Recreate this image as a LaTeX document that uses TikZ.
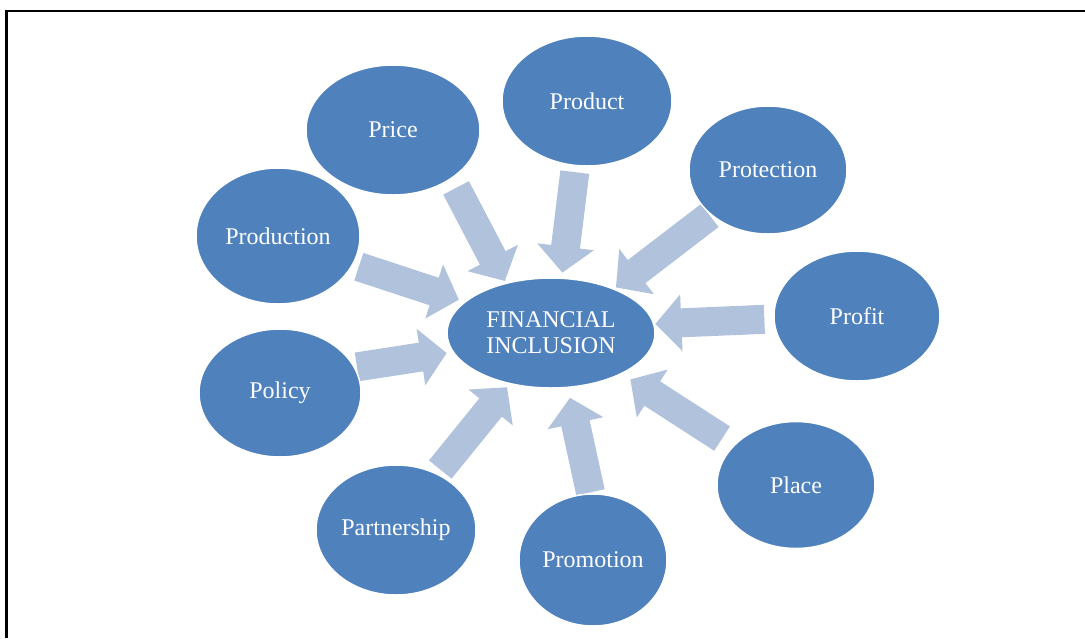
\documentclass[tikz,border=0pt]{standalone}
\usepackage{fontspec}
\setmainfont{Liberation Serif}
\usetikzlibrary{shapes.geometric}
\usetikzlibrary{arrows.meta}
\usetikzlibrary{backgrounds}
\definecolor{ovalblue}{HTML}{4F81BD}
\definecolor{arrowblue}{HTML}{B1C2DD}
\tikzset{oval/.style={ellipse,fill=ovalblue,draw=white,line width=1.5pt,text=white,inner sep=0pt,align=center,font=\fontsize{24}{26}\selectfont},
flow/.style 2 args={draw=arrowblue,line width=1pt,shorten <=#1,shorten >=#2,-{Triangle[length=26pt,width=57pt,line width=0pt,fill=arrowblue]},
  preaction={draw=arrowblue,-,line width=29pt,shorten >=#2+25.5pt}}}

\begin{document}
\begin{tikzpicture}[x=1pt,y=-1pt]
\useasboundingbox (0,0) rectangle (1085,638);
\draw[line width=2.2pt] (1085,11) -- (6.5,11) -- (6.5,638);

\node (fin) at (551,333) [oval,minimum width=208pt,minimum height=110pt] {FINANCIAL\\INCLUSION};
\node (price) at (393,130) [oval,minimum width=174pt,minimum height=130pt] {Price};
\node (product) at (587,101) [oval,minimum width=170pt,minimum height=130pt] {Product};
\node (protection) at (768,170) [oval,minimum width=158pt,minimum height=128pt] {Protection};
\node (production) at (278,236) [oval,minimum width=164pt,minimum height=136pt] {Production};
\node (profit) at (857,316) [oval,minimum width=166pt,minimum height=130pt] {Profit};
\node (policy) at (280,393) [oval,minimum width=162pt,minimum height=128pt] {Policy};
\node (place) at (796,485) [oval,minimum width=158pt,minimum height=127pt] {Place};
\node (partnership) at (396,530) [oval,minimum width=160pt,minimum height=130pt] {Partnership};
\node (promotion) at (593,560) [oval,minimum width=148pt,minimum height=132pt] {Promotion};

\begin{scope}[on background layer]
\draw [flow={10pt}{2pt}] (price.-40) -- (fin.132);
\draw [flow={6pt}{5pt}] (product.-100) -- (fin.79);
\draw [flow={1pt}{2pt}] (protection.-142) -- (fin.35);
\draw [flow={6pt}{6pt}] (production.-21) -- (fin.160);
\draw [flow={9pt}{1pt}] (profit.182) -- (fin.5);
\draw [flow={2pt}{6pt}] (policy.19) -- (fin.191);
\draw [flow={5pt}{4pt}] (partnership.54) -- (fin.-129);
\draw [flow={1pt}{10pt}] (promotion.92) -- (fin.-73);
\draw [flow={13pt}{10pt}] (place.148) -- (fin.-30);
\end{scope}
\end{tikzpicture}
\end{document}
